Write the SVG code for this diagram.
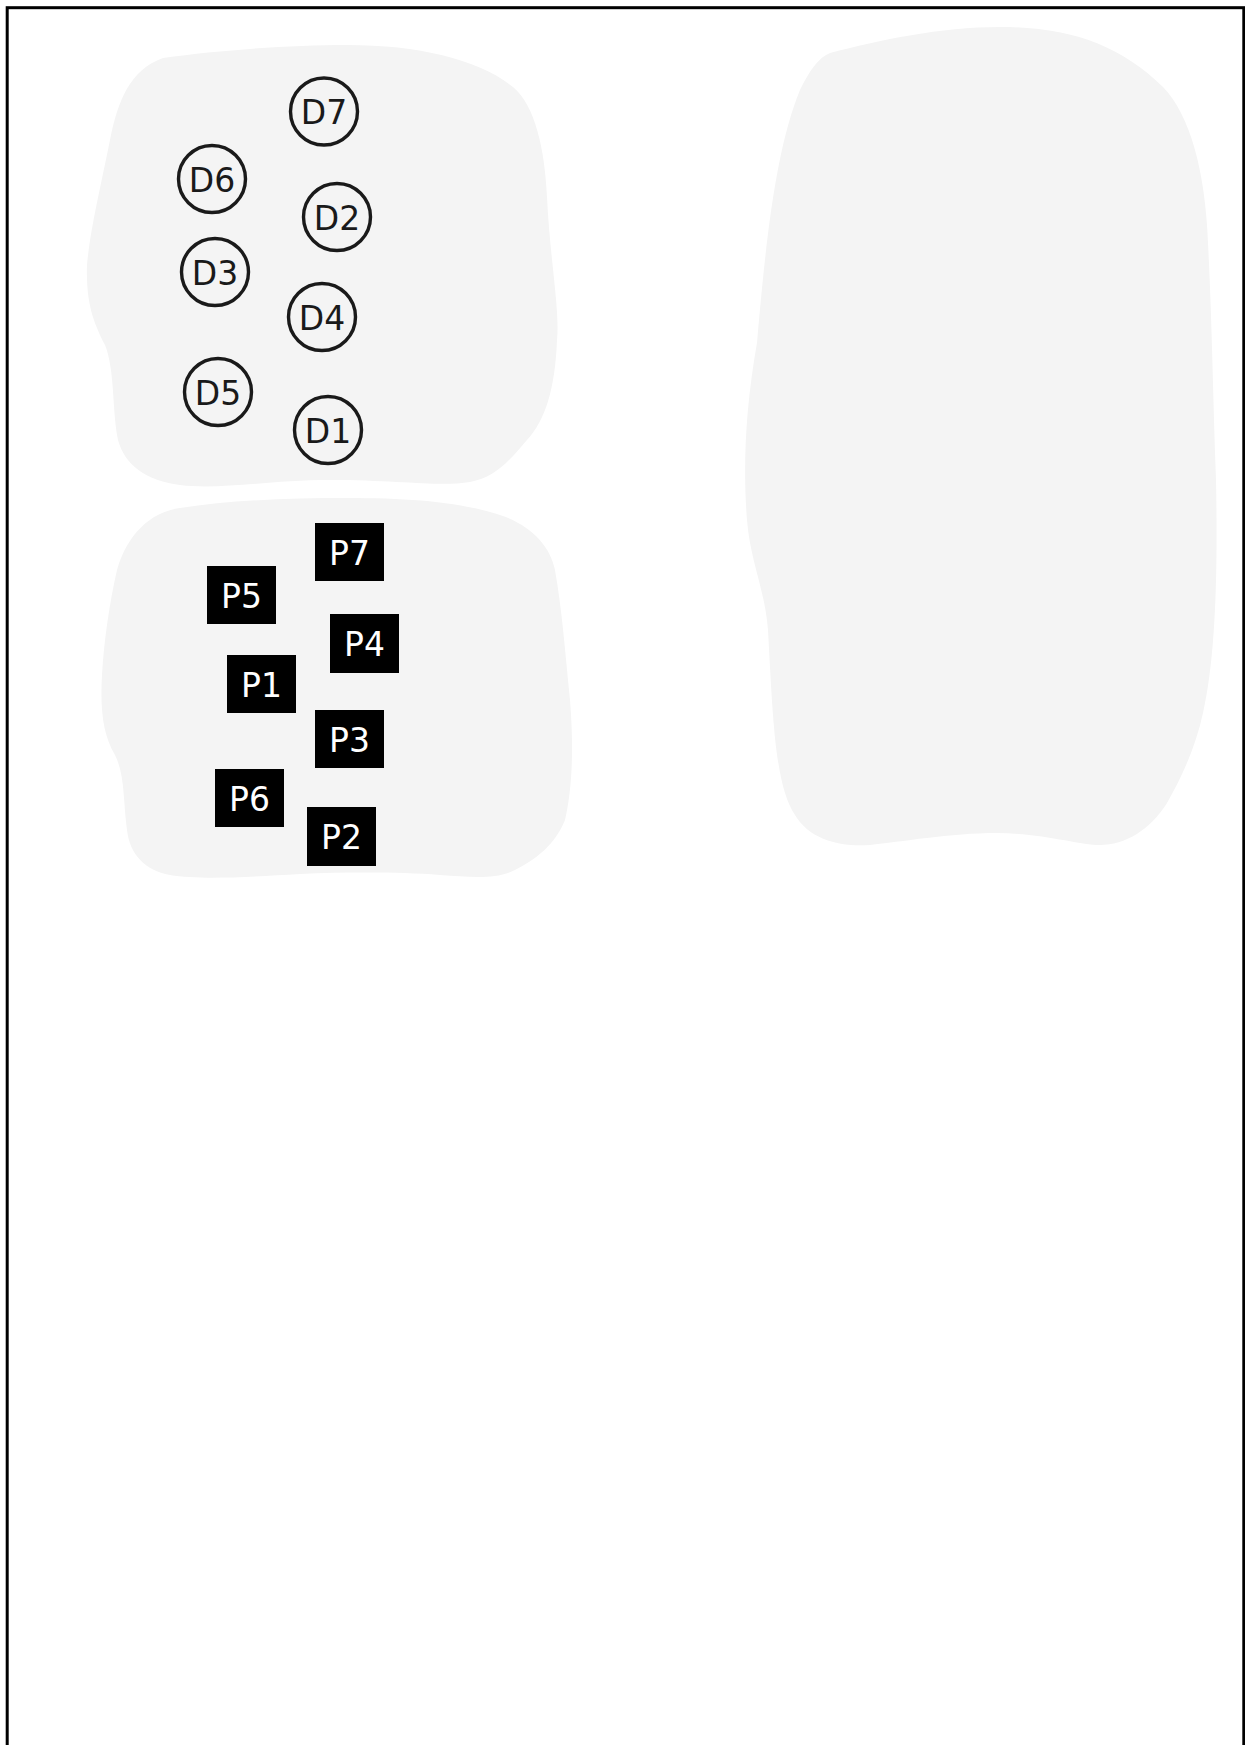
<svg xmlns="http://www.w3.org/2000/svg" width="1245" height="1745" viewBox="0 0 1245 1745">
<style>
.blob{fill:#f4f4f4;stroke:none}
.dn circle{fill:none;stroke:#1a1a1a;stroke-width:3.4}
.dn text{font-family:"DejaVu Sans",Verdana,sans-serif;font-size:33px;fill:#1a1a1a;text-anchor:middle}
.pn rect{fill:#000}
.pn text{font-family:"DejaVu Sans",Verdana,sans-serif;font-size:33px;fill:#fff;text-anchor:middle}
</style>
<rect x="0" y="0" width="1245" height="1745" fill="#fff"/>
<rect x="7.2" y="7.7" width="1236.6" height="1780" fill="none" stroke="#000" stroke-width="3"/>
<g id="region-d">
<path class="blob" d="M 163 58 C 220 50, 290 45, 347 45 C 420 45, 480 60, 513 87 C 535 105, 545 150, 547 197 C 550 260, 560 310, 557 340 C 555 390, 545 420, 527 440 C 510 460, 495 478, 470 482 C 440 487, 400 480, 330 480 C 270 480, 220 490, 180 485 C 145 480, 125 465, 118 440 C 112 410, 115 370, 105 345 C 92 320, 86 300, 87 265 C 90 230, 100 190, 110 140 C 118 100, 130 70, 163 58 Z"/>
</g>
<g id="region-p">
<path class="blob" d="M 180 508 C 230 500, 290 498, 347 498 C 410 498, 460 502, 500 515 C 530 525, 550 545, 555 570 C 562 610, 565 650, 570 700 C 574 750, 572 790, 565 820 C 555 845, 535 860, 515 870 C 495 880, 470 877, 440 875 C 400 872, 350 872, 300 874 C 250 877, 200 880, 170 875 C 145 870, 130 855, 127 830 C 123 800, 125 775, 115 755 C 103 735, 100 710, 102 675 C 104 640, 110 600, 117 570 C 127 535, 150 512, 180 508 Z"/>
</g>
<g id="region-right">
<path class="blob" d="M 830 53 C 880 40, 940 27, 1000 27 C 1070 27, 1120 45, 1163 87 C 1190 115, 1205 170, 1208 243 C 1212 320, 1213 400, 1216 480 C 1218 580, 1215 660, 1203 713 C 1195 750, 1180 780, 1167 803 C 1150 830, 1125 845, 1100 845 C 1080 845, 1040 833, 997 833 C 950 833, 900 842, 870 845 C 840 847, 810 840, 795 815 C 775 785, 773 720, 768 630 C 765 590, 750 560, 747 520 C 743 470, 745 410, 757 343 C 765 250, 775 150, 800 90 C 810 70, 818 58, 830 53 Z"/>
</g>
<g id="connectors"></g>
<g id="D7" class="dn"><circle cx="324" cy="111.5" r="33.5"/><text x="324" y="124">D7</text></g>
<g id="D6" class="dn"><circle cx="212" cy="179" r="33.5"/><text x="212" y="191.5">D6</text></g>
<g id="D2" class="dn"><circle cx="337" cy="217" r="33.5"/><text x="337" y="229.5">D2</text></g>
<g id="D3" class="dn"><circle cx="215" cy="272" r="33.5"/><text x="215" y="284.5">D3</text></g>
<g id="D4" class="dn"><circle cx="322" cy="317" r="33.5"/><text x="322" y="329.5">D4</text></g>
<g id="D5" class="dn"><circle cx="218" cy="392" r="33.5"/><text x="218" y="404.5">D5</text></g>
<g id="D1" class="dn"><circle cx="328" cy="430" r="33.5"/><text x="328" y="442.5">D1</text></g>
<g id="P7" class="pn"><rect x="315" y="523" width="69" height="58"/><text x="349.5" y="564.5">P7</text></g>
<g id="P5" class="pn"><rect x="207" y="566" width="69" height="58"/><text x="241.5" y="607.5">P5</text></g>
<g id="P4" class="pn"><rect x="330" y="614" width="69" height="59"/><text x="364.5" y="656">P4</text></g>
<g id="P1" class="pn"><rect x="227" y="655" width="69" height="58"/><text x="261.5" y="696.5">P1</text></g>
<g id="P3" class="pn"><rect x="315" y="710" width="69" height="58"/><text x="349.5" y="751.5">P3</text></g>
<g id="P6" class="pn"><rect x="215" y="769" width="69" height="58"/><text x="249.5" y="810.5">P6</text></g>
<g id="P2" class="pn"><rect x="307" y="807" width="69" height="59"/><text x="341.5" y="849">P2</text></g>
</svg>
